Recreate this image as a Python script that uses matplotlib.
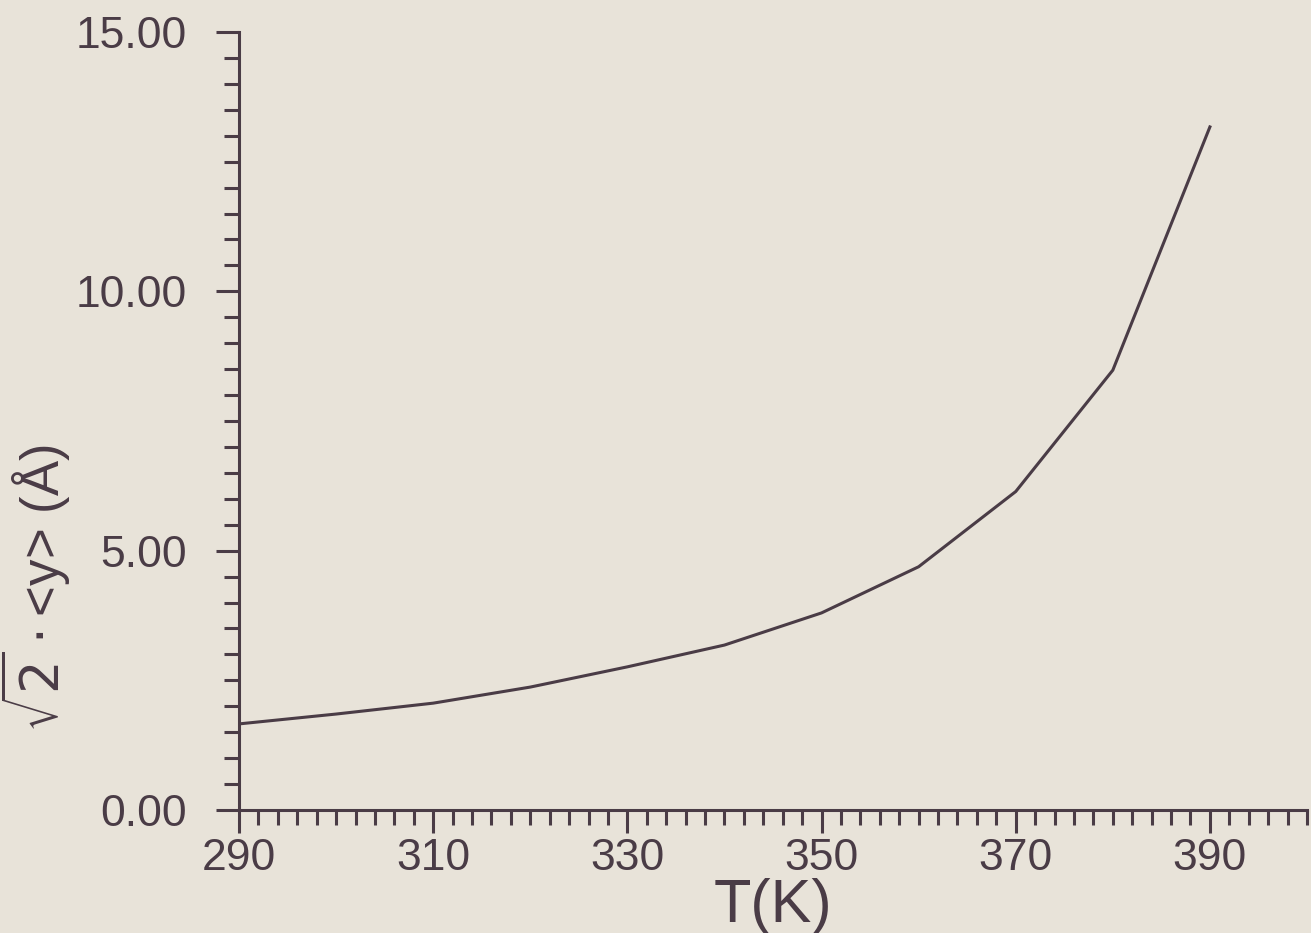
import matplotlib
matplotlib.use("Agg")
import matplotlib.pyplot as plt
from matplotlib.ticker import MultipleLocator, FormatStrFormatter

# values
temperature = [290, 300, 310, 320, 330, 340, 350, 360, 370, 380, 390]
amplitude = [1.66, 1.85, 2.06, 2.37, 2.76, 3.18, 3.80, 4.69, 6.14, 8.48, 13.17]

x_ticks = [290, 310, 330, 350, 370, 390]
y_ticks = [0, 5, 10, 15]

paper = '#e8e3d9'
ink = '#4a3c46'

plt.rcParams['font.family'] = ['Liberation Sans', 'DejaVu Sans']
plt.rcParams['mathtext.fontset'] = 'dejavusans'

fig = plt.figure(figsize=(13.11, 9.33), dpi=100, facecolor=paper)
ax = fig.add_axes([239 / 1311, 1 - 810 / 933, 1068 / 1311, 778 / 933])
ax.set_facecolor(paper)

ax.plot(temperature, amplitude, color=ink, linewidth=2.2)

ax.set_xlim(290, 400)
ax.set_ylim(0, 15)

# only the left and bottom axes, like the plotter output
for side in ['top', 'right']:
    ax.spines[side].set_visible(False)
for side in ['left', 'bottom']:
    ax.spines[side].set_color(ink)
    ax.spines[side].set_linewidth(2.2)

ax.set_xticks(x_ticks)
ax.set_yticks(y_ticks)
ax.xaxis.set_minor_locator(MultipleLocator(2))
ax.yaxis.set_minor_locator(MultipleLocator(0.5))
ax.yaxis.set_major_formatter(FormatStrFormatter('%.2f'))

ax.tick_params(axis='both', which='major', direction='out', length=16.5,
               width=2.2, color=ink, labelcolor=ink, labelsize=32)
ax.tick_params(axis='both', which='minor', direction='out', length=10.5,
               width=2.2, color=ink)
ax.tick_params(axis='y', which='major', pad=21)
ax.tick_params(axis='x', which='major', pad=4)

ax.set_xlabel('T(K)', fontsize=44, color=ink)
ax.xaxis.set_label_coords(0.5, -0.087)
ax.set_ylabel(r'$\sqrt{2}\cdot$<y> (Å)', fontsize=38, color=ink)
ax.yaxis.set_label_coords(-0.155, 0.285)

fig.savefig('out.png', dpi=100, facecolor=paper)
